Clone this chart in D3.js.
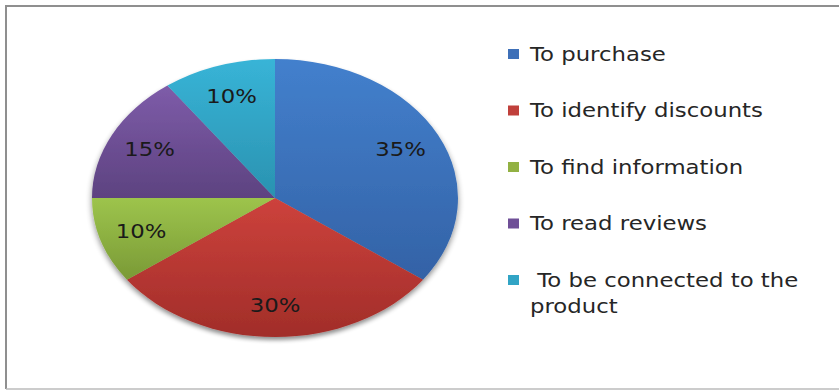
<!DOCTYPE html>
<html>
<head>
<meta charset="utf-8">
<script src="https://cdn.jsdelivr.net/npm/d3@7"></script>
<style>
  html, body { margin: 0; padding: 0; background: #fff; }
  svg { display: block; }
</style>
</head>
<body>
<svg id="chart"></svg>
<script>
// chart data
const categories = [
    "To purchase",
    "To identify discounts",
    "To find information",
    "To read reviews",
    " To be connected to the product"
];
const values = [35, 30, 10, 15, 10];
const labels = ["35%", "30%", "10%", "15%", "10%"];

// colors per slice: top / bottom of gradient, legend swatch
const topColors = ["#4380cd", "#cd423c", "#9dc44c", "#7e5ca9", "#38b4d7"];
const bottomColors = ["#3362a6", "#a12d29", "#7a9a36", "#5d4280", "#2a92b0"];
const swatchColors = ["#3e70b8", "#c0403b", "#92b143", "#6f4f97", "#31a4c5"];

const width = 839;
const height = 391;

const svg = d3.select("#chart")
    .attr("width", width)
    .attr("height", height);

// frame
svg.append("path")
    .attr("d", `M6,${height - 2} V6 H${width}`)
    .attr("fill", "none")
    .attr("stroke", "#8f8f8f")
    .attr("stroke-width", 2);
svg.append("line")
    .attr("x1", 6).attr("x2", width)
    .attr("y1", height - 2).attr("y2", height - 2)
    .attr("stroke", "#bbb")
    .attr("stroke-width", 1.5);

const defs = svg.append("defs");

// gradients
topColors.forEach((c, i) => {
    const g = defs.append("linearGradient")
        .attr("id", "grad" + i)
        .attr("x1", 0).attr("y1", 0)
        .attr("x2", 0).attr("y2", 1);
    g.append("stop").attr("offset", "0%").attr("stop-color", c);
    g.append("stop").attr("offset", "100%").attr("stop-color", bottomColors[i]);
});

// soft shadow under pie
const shadow = defs.append("filter")
    .attr("id", "shadow")
    .attr("x", "-20%").attr("y", "-20%")
    .attr("width", "140%").attr("height", "140%");
shadow.append("feGaussianBlur").attr("in", "SourceAlpha").attr("stdDeviation", 3);
shadow.append("feOffset").attr("dx", 0).attr("dy", 4).attr("result", "blur");
shadow.append("feComponentTransfer")
    .append("feFuncA").attr("type", "linear").attr("slope", 0.45);
const merge = shadow.append("feMerge");
merge.append("feMergeNode");
merge.append("feMergeNode").attr("in", "SourceGraphic");

// pie geometry (ellipse)
const cx = 275;
const cy = 198;
const rx = 183;
const ry = 139;

const pie = d3.pie().sort(null).value(d => d);
const arcs = pie(values);

const arc = d3.arc().innerRadius(0).outerRadius(rx);
const labelArc = d3.arc().innerRadius(rx * 0.77).outerRadius(rx * 0.77);

const pieG = svg.append("g")
    .attr("transform", `translate(${cx},${cy})`);

const slices = pieG.append("g")
    .attr("filter", "url(#shadow)")
    .attr("transform", `scale(1, ${ry / rx})`);

slices.selectAll("path")
    .data(arcs)
    .enter()
    .append("path")
    .attr("d", arc)
    .attr("fill", (d, i) => `url(#grad${i})`);

// slice labels
const textScale = 1.2;
pieG.selectAll("text.pct")
    .data(arcs)
    .enter()
    .append("text")
    .attr("class", "pct")
    .attr("transform", d => {
        const [x, y] = labelArc.centroid(d);
        return `translate(${x}, ${y * ry / rx}) scale(${textScale}, 1)`;
    })
    .attr("text-anchor", "middle")
    .attr("dy", "0.36em")
    .attr("font-family", "DejaVu Sans")
    .attr("font-size", 19)
    .attr("fill", "#1a1a1a")
    .text((d, i) => labels[i]);

// legend
const legendX = 508;
const legendY = 54;
const legendStep = 56.5;

const legend = svg.selectAll("g.legend")
    .data(categories)
    .enter()
    .append("g")
    .attr("class", "legend")
    .attr("transform", (d, i) => `translate(${legendX}, ${legendY + i * legendStep})`);

legend.append("rect")
    .attr("x", 0)
    .attr("y", -5)
    .attr("width", 11)
    .attr("height", 10)
    .attr("fill", (d, i) => swatchColors[i]);

legend.each(function(d) {
    const g = d3.select(this);
    // wrap long label into two lines like the original
    const lines = d.length > 25 ? [" To be connected to the", "product"] : [d];
    const t = g.append("text")
        .attr("transform", `translate(22, 0) scale(${textScale}, 1)`)
        .attr("font-family", "DejaVu Sans")
        .attr("font-size", 19)
        .attr("fill", "#262626")
        .attr("xml:space", "preserve");
    lines.forEach((line, j) => {
        t.append("tspan")
            .attr("x", 0)
            .attr("dy", j === 0 ? "0.36em" : "1.38em")
            .text(line);
    });
});
</script>
</body>
</html>
